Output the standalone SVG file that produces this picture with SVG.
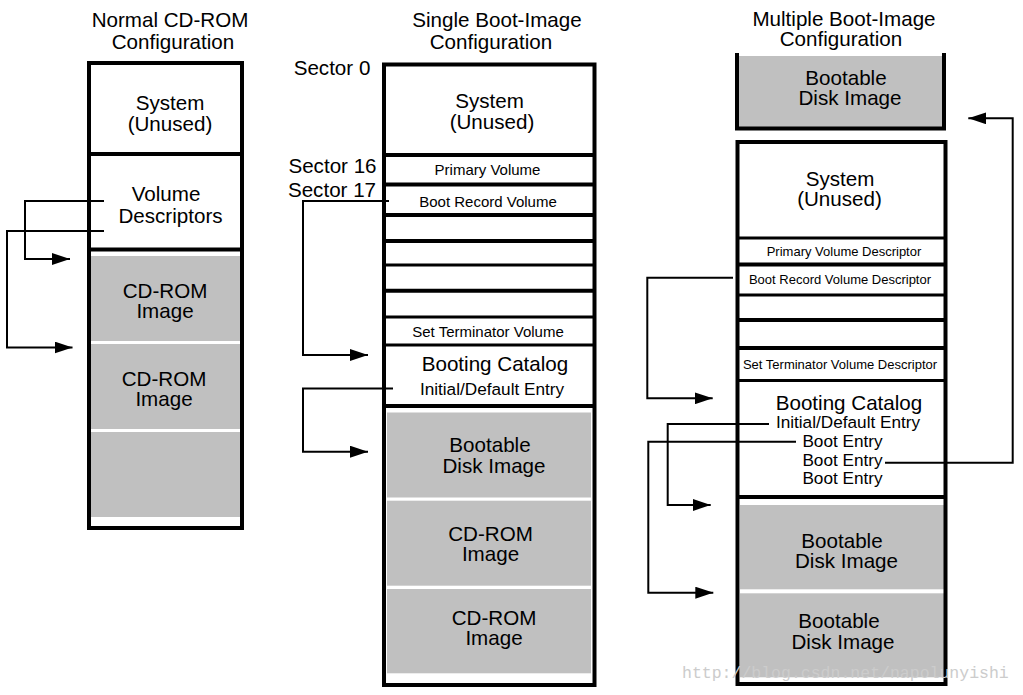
<svg xmlns="http://www.w3.org/2000/svg" width="1023" height="695" viewBox="0 0 1023 695">
<style>
text{font-family:"Liberation Sans",Arial,sans-serif;fill:#000;text-anchor:middle}
.t{font-size:20.6px}
.b{font-size:20.6px}
.m{font-size:17.2px}
.s{font-size:15px}
.xs{font-size:13px}
.frame{fill:none;stroke:#000;stroke-width:4}
.div{stroke:#000;stroke-width:4}
.div3{stroke:#000;stroke-width:3}
.gray{fill:#c0c0c0}
.conn{fill:none;stroke:#000;stroke-width:2}
.wm{font-family:"Liberation Mono","DejaVu Sans Mono",monospace;font-size:16.5px;fill:#cccccc;text-anchor:start}
</style>
<defs>
<marker id="arr" markerUnits="userSpaceOnUse" markerWidth="18" markerHeight="12" refX="18" refY="6" orient="auto">
<path d="M0,0 L18,6 L0,12 z" fill="#000"/>
</marker>
</defs>
<rect width="1023" height="695" fill="#fff"/>

<g id="titles">
<text class="t" x="170" y="27.3">Normal CD-ROM<tspan x="173" y="49.3">Configuration</tspan></text>
<text class="t" x="497" y="27.3">Single Boot-Image<tspan x="491" y="49.3">Configuration</tspan></text>
<text class="t" x="844" y="26">Multiple Boot-Image<tspan x="841" y="46">Configuration</tspan></text>
</g>

<g id="normal-config">
<rect class="gray" x="91" y="256" width="149" height="85"/>
<rect class="gray" x="91" y="344" width="149" height="85"/>
<rect class="gray" x="91" y="432" width="149" height="85"/>
<rect class="frame" x="89" y="63" width="153" height="465"/>
<line class="div" x1="89" y1="154" x2="242" y2="154"/>
<line class="div" x1="89" y1="249.5" x2="242" y2="249.5"/>
<text class="b" x="170" y="110">System<tspan x="170" y="130.5">(Unused)</tspan></text>
<text class="b" x="166" y="201">Volume<tspan x="170.5" y="222.5">Descriptors</tspan></text>
<text class="b" x="165" y="297.5">CD-ROM<tspan x="165" y="317.5">Image</tspan></text>
<text class="b" x="164" y="386">CD-ROM<tspan x="164" y="406">Image</tspan></text>
</g>

<g id="single-config">
<rect class="gray" x="387" y="412.5" width="204" height="85"/>
<rect class="gray" x="387" y="500.7" width="204" height="85"/>
<rect class="gray" x="387" y="589" width="204" height="84.3"/>
<rect class="frame" x="384" y="64.5" width="210.5" height="620.5"/>
<line class="div" x1="384" y1="155" x2="594.5" y2="155"/>
<line class="div" x1="384" y1="184.5" x2="594.5" y2="184.5"/>
<line class="div" x1="384" y1="215" x2="594.5" y2="215"/>
<line class="div" x1="384" y1="241" x2="594.5" y2="241"/>
<line class="div3" x1="384" y1="265" x2="594.5" y2="265"/>
<line class="div" x1="384" y1="290.7" x2="594.5" y2="290.7"/>
<line class="div3" x1="384" y1="317" x2="594.5" y2="317"/>
<line class="div3" x1="384" y1="345" x2="594.5" y2="345"/>
<line class="div" x1="384" y1="406" x2="594.5" y2="406"/>
<text class="b" x="332" y="75">Sector 0</text>
<text class="b" x="332.5" y="173">Sector 16<tspan x="332" y="196.5">Sector 17</tspan></text>
<text class="b" x="489.5" y="108">System<tspan x="492" y="129">(Unused)</tspan></text>
<text class="s" x="487.5" y="174.5">Primary Volume</text>
<text class="s" x="488" y="206.5">Boot Record Volume</text>
<text class="s" x="488" y="336.5">Set Terminator Volume</text>
<text class="b" x="495" y="370.5">Booting Catalog</text>
<text class="m" x="492" y="394.5">Initial/Default Entry</text>
<text class="b" x="490" y="452">Bootable<tspan x="494" y="472.5">Disk Image</tspan></text>
<text class="b" x="490.5" y="541">CD-ROM<tspan x="490.5" y="561">Image</tspan></text>
<text class="b" x="494" y="624.5">CD-ROM<tspan x="494" y="645">Image</tspan></text>
</g>

<g id="multi-top-image">
<rect class="gray" x="739" y="56" width="203" height="71"/>
<path class="frame" d="M737,53 V128.5 H944 V53"/>
<text class="b" x="846" y="84.5">Bootable<tspan x="850" y="104.5">Disk Image</tspan></text>
</g>

<g id="multi-config">
<rect class="gray" x="740" y="505" width="204" height="84.3"/>
<rect class="gray" x="740" y="593.3" width="204" height="84"/>
<rect class="frame" x="737.5" y="142" width="208" height="542"/>
<line class="div3" x1="737.5" y1="238" x2="945.5" y2="238"/>
<line class="div" x1="737.5" y1="264.5" x2="945.5" y2="264.5"/>
<line class="div3" x1="737.5" y1="295" x2="945.5" y2="295"/>
<line class="div" x1="737.5" y1="320" x2="945.5" y2="320"/>
<line class="div" x1="737.5" y1="348" x2="945.5" y2="348"/>
<line class="div3" x1="737.5" y1="380.5" x2="945.5" y2="380.5"/>
<line class="div" x1="737.5" y1="497" x2="945.5" y2="497"/>
<text class="b" x="840" y="186">System<tspan x="839.5" y="206">(Unused)</tspan></text>
<text class="xs" x="844" y="256">Primary Volume Descriptor</text>
<text class="xs" x="840" y="283.5">Boot Record Volume Descriptor</text>
<text class="xs" x="840" y="368.5">Set Terminator Volume Descriptor</text>
<text class="b" x="849" y="409.5">Booting Catalog</text>
<text class="m" x="848" y="428">Initial/Default Entry<tspan x="842.5" y="447">Boot Entry</tspan><tspan x="842.5" y="465.5">Boot Entry</tspan><tspan x="842.5" y="484">Boot Entry</tspan></text>
<text class="b" x="842" y="547.5">Bootable<tspan x="846.5" y="567.5">Disk Image</tspan></text>
<text class="b" x="839" y="628">Bootable<tspan x="843" y="649">Disk Image</tspan></text>
</g>

<g id="connectors">
<path class="conn" d="M104,201 H25 V259 H70" marker-end="url(#arr)"/>
<path class="conn" d="M104,231 H7 V347.5 H72.5" marker-end="url(#arr)"/>
<path class="conn" d="M389,201 H303 V355 H368" marker-end="url(#arr)"/>
<path class="conn" d="M393,388.5 H303 V451.7 H368" marker-end="url(#arr)"/>
<path class="conn" d="M733,277.7 H647.3 V398.3 H712.7" marker-end="url(#arr)"/>
<path class="conn" d="M769,424 H667.7 V505 H710.7" marker-end="url(#arr)"/>
<path class="conn" d="M796,441.7 H648.3 V592.7 H713.3" marker-end="url(#arr)"/>
<path class="conn" d="M885,462.7 H1012.7 V118.3 H968.3" marker-end="url(#arr)"/>
</g>

<text class="wm" x="682" y="678">http://blog.csdn.net/napolunyishi</text>
</svg>
